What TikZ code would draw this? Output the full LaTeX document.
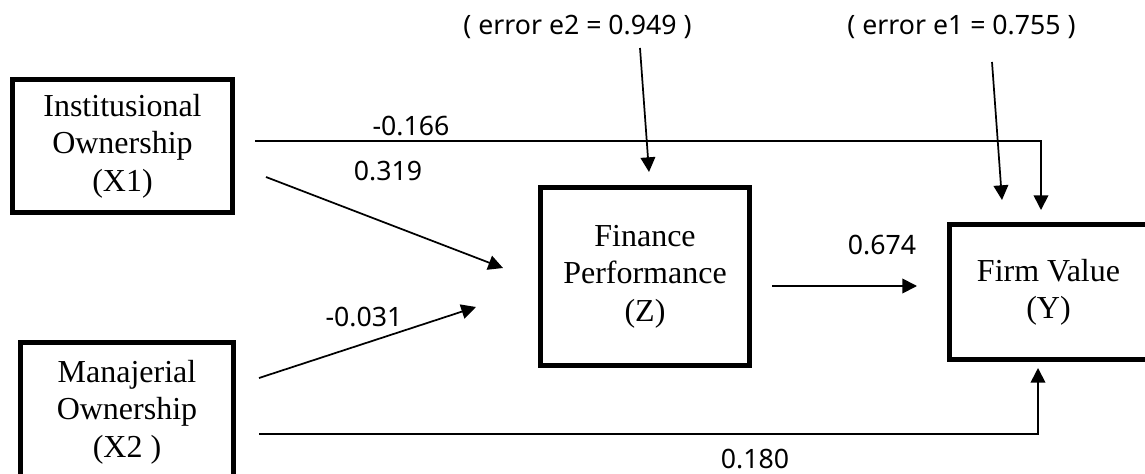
\documentclass[tikz,border=0pt]{standalone}
\usepackage{fontspec}
\setmainfont{Liberation Serif}
\newfontfamily\labelfont{Noto Sans}
\usetikzlibrary{arrows.meta}

\tikzset{
  varbox/.style={draw, line width=3.5pt, align=center, inner sep=0pt,
    font=\fontsize{24}{28}\selectfont},
  coef/.style={inner sep=0pt, font=\labelfont\fontsize{20}{24}\selectfont},
  path/.style={line width=1.3pt, -{Triangle[length=11pt,width=11pt]}}
}

\begin{document}
\begin{tikzpicture}[x=0.75pt,y=0.75pt,yscale=-1,xscale=1]
\useasboundingbox (0,0) rectangle (1145,474);

%Shape: Box
\node [varbox, minimum width=165pt, minimum height=99.75pt] (x1) at (122.5,146) {Institusional\\Ownership\\(X1)};
%Shape: Box
\node [varbox, minimum width=159.75pt, minimum height=104.25pt] (x2) at (127,412) {Manajerial\\Ownership\\(X2 )};
%Shape: Box
\node [varbox, minimum width=156.75pt, minimum height=133.5pt] (z) at (645,276.5) {Finance\\Performance\\(Z)};
%Shape: Box
\node [varbox, minimum width=148.5pt, minimum height=101.25pt] (y) at (1048.5,292) {Firm Value\\(Y)};

% Text Node
\node [coef] (e2) at (577.5,27) {( error e2 = 0.949 )};
% Text Node
\node [coef] (e1) at (961.5,27) {( error e1 = 0.755 )};

% free ends of the paths
\coordinate (e2a) at (640,48);
\coordinate (e2b) at (649,172);
\coordinate (e1a) at (992,62);
\coordinate (e1b) at (1002,200);
\coordinate (x1y) at (255,141);
\coordinate (x1yb) at (1041,210);
\coordinate (x1z) at (266,177);
\coordinate (x1zb) at (503,268);
\coordinate (x2z) at (259,378);
\coordinate (x2zb) at (476,307);
\coordinate (zy) at (772,286);
\coordinate (zyb) at (917,286);
\coordinate (x2y) at (259,434);
\coordinate (x2yb) at (1038,368);

%Straight Lines
\draw [path] (e2a) -- (e2b);
\draw [path] (e1a) -- (e1b);
\draw [path] (x1y) -| (x1yb);
\draw [path] (x1z) -- (x1zb);
\draw [path] (x2z) -- (x2zb);
\draw [path] (zy) -- (zyb);
\draw [path] (x2y) -| (x2yb);

% Text Node
\node [coef] (c1) at (411,126) {-0.166};
% Text Node
\node [coef] (c2) at (388,171) {0.319};
% Text Node
\node [coef] (c3) at (364,317) {-0.031};
% Text Node
\node [coef] (c4) at (882,245) {0.674};
% Text Node
\node [coef] (c5) at (755,459) {0.180};
\end{tikzpicture}
\end{document}
